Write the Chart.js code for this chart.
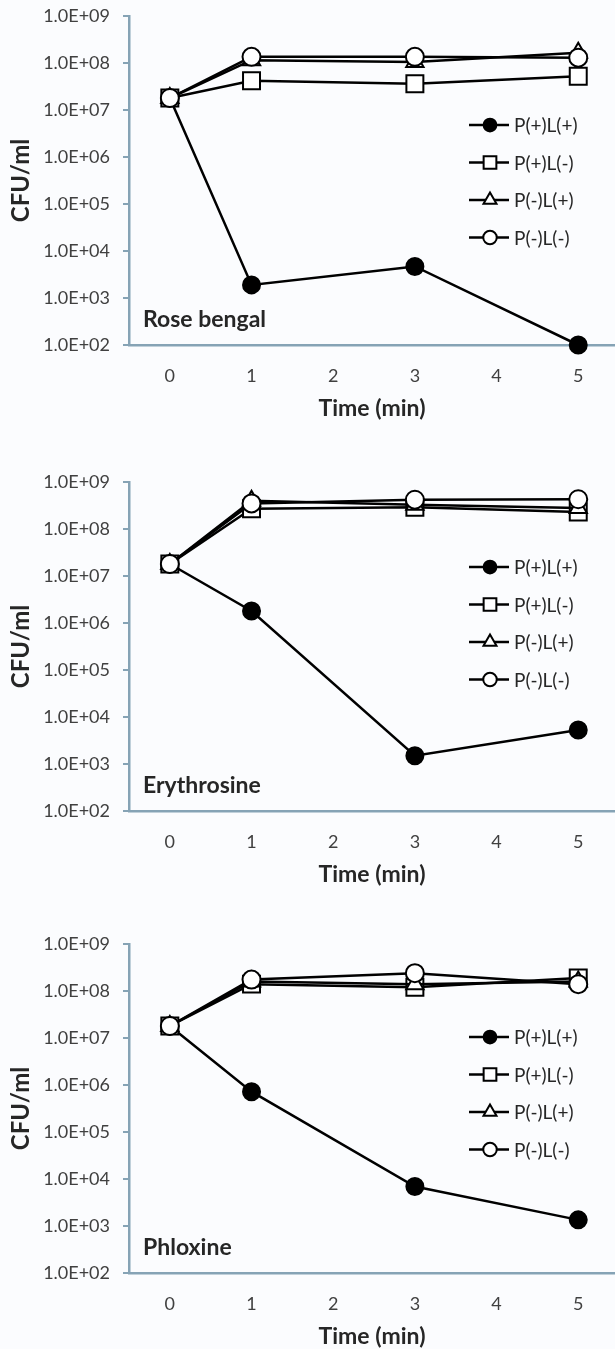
<!DOCTYPE html>
<html>
<head>
<meta charset="utf-8">
<script src="https://cdn.jsdelivr.net/npm/chart.js@4/dist/chart.umd.min.js"></script>
<style>
    html, body { margin: 0; padding: 0; background: #fbfcfe; overflow: hidden; }
    body { width: 615px; height: 1349px; position: relative; }
    .panel { position: absolute; left: 0; width: 615px; height: 440px; }
    .panel canvas { display: block; }
</style>
</head>
<body>
<div class="panel" style="top:0px"><canvas id="chart0" width="615" height="440"></canvas></div>
<div class="panel" style="top:466px"><canvas id="chart1" width="615" height="440"></canvas></div>
<div class="panel" style="top:928px"><canvas id="chart2" width="615" height="440"></canvas></div>
<script>
const times = [0, 1, 3, 5];
const xTicks = [0, 1, 2, 3, 4, 5];
const yTicks = [1e2, 1e3, 1e4, 1e5, 1e6, 1e7, 1e8, 1e9];
const seriesLabels = ["P(+)L(+)", "P(+)L(-)", "P(-)L(+)", "P(-)L(-)"];
const panelNames = ["Rose bengal", "Erythrosine", "Phloxine"];

// Rose bengal
const roseBengalPpLp = [1.8e7, 1.9e3, 4.7e3, 1.0e2];
const roseBengalPpLm = [1.8e7, 4.2e7, 3.6e7, 5.2e7];
const roseBengalPmLp = [1.8e7, 1.15e8, 1.05e8, 1.65e8];
const roseBengalPmLm = [1.8e7, 1.35e8, 1.35e8, 1.3e8];

// Erythrosine
const erythrosinePpLp = [1.8e7, 1.8e6, 1.5e3, 5.3e3];
const erythrosinePpLm = [1.8e7, 2.7e8, 2.9e8, 2.3e8];
const erythrosinePmLp = [1.8e7, 4.0e8, 3.3e8, 2.8e8];
const erythrosinePmLm = [1.8e7, 3.5e8, 4.2e8, 4.3e8];

// Phloxine
const phloxinePpLp = [1.8e7, 7.2e5, 6.9e3, 1.35e3];
const phloxinePpLm = [1.8e7, 1.4e8, 1.2e8, 1.9e8];
const phloxinePmLp = [1.8e7, 1.6e8, 1.4e8, 1.6e8];
const phloxinePmLm = [1.8e7, 1.75e8, 2.4e8, 1.4e8];

const panelSeries = [
    [roseBengalPpLp, roseBengalPpLm, roseBengalPmLp, roseBengalPmLm],
    [erythrosinePpLp, erythrosinePpLm, erythrosinePmLp, erythrosinePmLm],
    [phloxinePpLp, phloxinePpLm, phloxinePmLp, phloxinePmLm],
];

const legendTops = [125, 101, 109];

const AXIS_COLOR = "#86a3b5";
const FONT = "Lato, 'Open Sans', sans-serif";

const markerStyles = [
    { pointStyle: "circle", radius: 8.5, fill: "#000000" },
    { pointStyle: "rect", radius: 12, fill: "#ffffff" },
    { pointStyle: "triangle", radius: 10, fill: "#ffffff" },
    { pointStyle: "circle", radius: 9, fill: "#ffffff" },
];
const drawOrder = [3, 2, 1, 0];

function formatExp(v) {
    const parts = Number(v).toExponential(1).split("e");
    const exp = parseInt(parts[1], 10);
    const sign = exp < 0 ? "-" : "+";
    return parts[0] + "E" + sign + String(Math.abs(exp)).padStart(2, "0");
}

// legend: short line with the marker in the middle, then the label
const lineLegend = {
    id: "lineLegend",
    afterDraw(chart, args, opts) {
        const ctx = chart.ctx;
        ctx.save();
        seriesLabels.forEach((label, i) => {
            const y = opts.top + i * 37.5;
            const m = markerStyles[i];
            ctx.strokeStyle = "#000";
            ctx.lineWidth = 2.5;
            ctx.beginPath();
            ctx.moveTo(469, y);
            ctx.lineTo(509, y);
            ctx.stroke();
            ctx.fillStyle = m.fill;
            ctx.lineWidth = 2;
            Chart.helpers.drawPoint(ctx, {
                pointStyle: m.pointStyle,
                rotation: 0,
                radius: m.radius * 0.75,
                borderWidth: 2,
            }, 490, y);
            ctx.fillStyle = "#262626";
            ctx.font = "19px " + FONT;
            ctx.textAlign = "left";
            ctx.textBaseline = "middle";
            ctx.fillText(label, 514, y + 1);
        });
        ctx.restore();
    },
};

const panelLabel = {
    id: "panelLabel",
    afterDraw(chart, args, opts) {
        const ctx = chart.ctx;
        const area = chart.chartArea;
        ctx.save();
        ctx.fillStyle = "#262626";
        ctx.font = "bold 23px " + FONT;
        ctx.textAlign = "left";
        ctx.textBaseline = "middle";
        ctx.fillText(opts.text, area.left + 14, area.bottom - 25);
        ctx.restore();
    },
};

panelSeries.forEach((series, p) => {
    const datasets = series.map((values, i) => ({
        label: seriesLabels[i],
        data: times.map((t, k) => ({ x: t, y: values[k] })),
        borderColor: "#000000",
        borderWidth: 2.5,
        pointStyle: markerStyles[i].pointStyle,
        pointRadius: markerStyles[i].radius,
        pointBackgroundColor: markerStyles[i].fill,
        pointBorderColor: "#000000",
        pointBorderWidth: 2,
        tension: 0,
        clip: false,
        order: drawOrder[i],
    }));

    new Chart(document.getElementById("chart" + p), {
        type: "line",
        data: { datasets },
        plugins: [lineLegend, panelLabel],
        options: {
            responsive: false,
            animation: false,
            layout: { autoPadding: false, padding: { top: 16, right: 0, bottom: 0, left: 0 } },
            plugins: {
                legend: { display: false },
                tooltip: { enabled: false },
                lineLegend: { top: legendTops[p] },
                panelLabel: { text: panelNames[p] },
            },
            scales: {
                x: {
                    type: "linear",
                    min: -0.5,
                    max: 5.45,
                    afterFit: (scale) => {
                        scale.height = 95;
                        scale.paddingLeft = 0;
                        scale.paddingRight = 0;
                    },
                    afterBuildTicks: (scale) => { scale.ticks = xTicks.map((v) => ({ value: v })); },
                    grid: { display: false, drawTicks: false },
                    border: { display: true, color: AXIS_COLOR, width: 2.5 },
                    ticks: {
                        padding: 20,
                        color: "#404040",
                        font: { family: FONT, size: 18 },
                        maxRotation: 0,
                    },
                    title: {
                        display: true,
                        text: "Time (min)",
                        color: "#262626",
                        font: { family: FONT, size: 23, weight: "bold" },
                        padding: { top: 0, bottom: 18 },
                    },
                },
                y: {
                    type: "logarithmic",
                    min: 1e2,
                    max: 1e9,
                    afterFit: (scale) => {
                        scale.width = 129;
                        scale.paddingTop = 0;
                        scale.paddingBottom = 0;
                    },
                    afterBuildTicks: (scale) => { scale.ticks = yTicks.map((v) => ({ value: v })); },
                    grid: {
                        display: true,
                        drawOnChartArea: false,
                        drawTicks: true,
                        tickLength: 6,
                        color: AXIS_COLOR,
                        lineWidth: 2,
                    },
                    border: { display: true, color: AXIS_COLOR, width: 2.5 },
                    ticks: {
                        padding: 13,
                        color: "#404040",
                        font: { family: FONT, size: 18 },
                        callback: (v) => formatExp(v),
                    },
                    title: {
                        display: true,
                        text: "CFU/ml",
                        color: "#262626",
                        font: { family: FONT, size: 24, weight: "bold" },
                        padding: { top: 7, bottom: 0 },
                    },
                },
            },
        },
    });
});
</script>
</body>
</html>
